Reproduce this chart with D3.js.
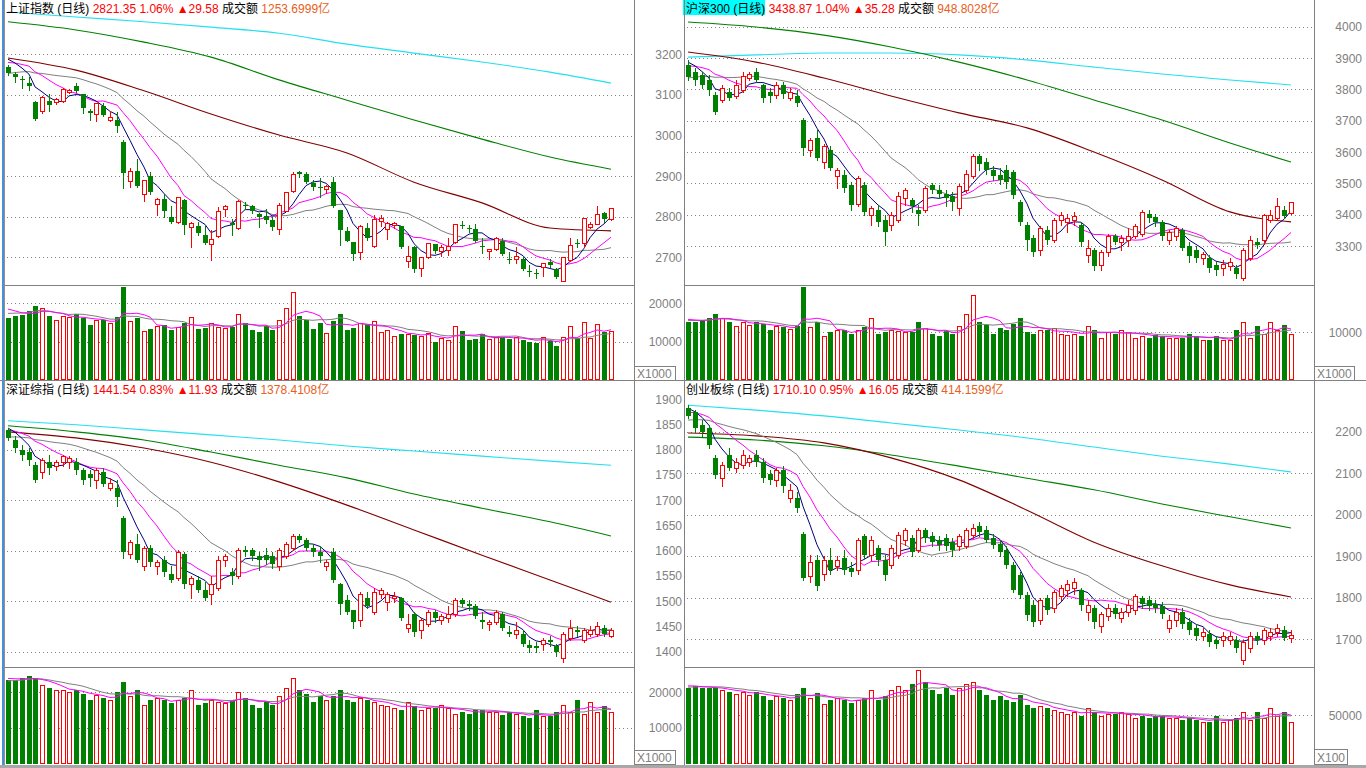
<!DOCTYPE html>
<html><head><meta charset="utf-8">
<script src="https://cdn.jsdelivr.net/npm/d3@7"></script>
<style>
html,body{margin:0;padding:0;background:#fff;overflow:hidden}
svg{display:block}
text{font-family:"Liberation Sans",Arial,"Noto Sans CJK SC",sans-serif;white-space:pre}
</style></head><body>
<svg id="c" width="1366" height="768"></svg>
<script>
// ---------------- DATA ----------------
const headerNames=['上证指数','沪深300','深证综指','创业板综'];
const headerClose=['2821.35','3438.87','1441.54','1710.10'];
const headerPct=['1.06%','1.04%','0.83%','0.95%'];
const headerChg=['29.58','35.28','11.93','16.05'];
const headerAmt=['1253.6999','948.8028','1378.4108','414.1599'];

const shTicks=[3200,3100,3000,2900,2800,2700];
const shGrid=[3200,3100,3000,2900,2800,2700];
const hsTicks=[4000,3900,3800,3700,3600,3500,3400,3300];
const szTicks=[1900,1850,1800,1750,1700,1650,1600,1550,1500,1450,1400];
const szGrid=[1800,1700,1600,1500,1400];
const cyTicks=[2200,2100,2000,1900,1800,1700];
const shVolTicks=[20000,10000];
const hsVolTicks=[10000];
const szVolTicks=[20000,10000];
const cyVolTicks=[50000];
const maKeyIdx=[0,10,20,30,40,50,60,70,80,89];

// 上证指数
const shOpen=[3169,3151,3139,3130,3083,3061,3085,3083,3086,3107,3122,3101,3060,3053,3073,3037,3038,2985,2889,2913,2855,2900,2831,2844,2799,2788,2840,2774,2777,2755,2732,2752,2819,2784,2771,2830,2826,2807,2802,2791,2769,2815,2863,2911,2904,2882,2872,2867,2885,2816,2765,2737,2712,2771,2729,2790,2769,2780,2777,2691,2726,2673,2700,2732,2715,2718,2737,2780,2772,2769,2729,2716,2720,2741,2697,2695,2697,2667,2661,2677,2689,2671,2642,2693,2734,2734,2774,2782,2808,2794];
const shHigh=[3174,3156,3146,3143,3085,3097,3102,3092,3116,3114,3130,3102,3065,3081,3079,3060,3059,2989,2919,2942,2891,2909,2845,2856,2827,2849,2843,2788,2788,2777,2767,2825,2829,2794,2842,2837,2829,2808,2818,2800,2833,2862,2911,2913,2910,2890,2895,2877,2898,2817,2775,2738,2780,2784,2804,2804,2788,2788,2778,2728,2727,2701,2736,2733,2730,2747,2783,2790,2779,2782,2748,2720,2749,2747,2714,2725,2701,2681,2670,2686,2697,2673,2701,2747,2744,2797,2788,2826,2812,2822];
const shLow=[3149,3132,3118,3112,3039,3056,3061,3078,3083,3104,3108,3055,3038,3036,3049,3035,3009,2871,2874,2874,2839,2857,2804,2800,2785,2784,2757,2725,2755,2733,2693,2751,2802,2755,2770,2818,2808,2775,2784,2767,2757,2814,2862,2898,2882,2866,2849,2859,2824,2730,2740,2693,2697,2743,2726,2777,2744,2771,2722,2675,2664,2655,2698,2711,2703,2706,2734,2771,2763,2738,2711,2695,2718,2706,2685,2685,2668,2654,2648,2654,2677,2650,2641,2692,2726,2726,2771,2781,2788,2793];
const shClose=[3155,3143,3137,3123,3041,3094,3076,3091,3114,3113,3110,3068,3055,3079,3051,3045,3024,2908,2913,2876,2890,2862,2843,2815,2787,2848,2779,2785,2759,2734,2746,2815,2827,2779,2838,2828,2814,2800,2792,2774,2829,2860,2904,2905,2885,2874,2871,2876,2826,2767,2741,2707,2778,2747,2794,2796,2785,2784,2725,2704,2670,2700,2734,2716,2725,2728,2782,2779,2771,2741,2728,2720,2747,2707,2693,2703,2670,2666,2660,2685,2681,2652,2700,2730,2733,2796,2782,2806,2794,2821];
const shVol=[16150,16670,16930,17970,19270,18660,16670,15540,16580,16320,17100,16230,14320,15620,15620,14760,16400,24300,15360,16230,12760,13370,14060,14320,13020,13720,14930,16320,13370,13630,14760,13800,13540,13800,17100,14840,13110,12500,13970,13110,15620,18750,22830,16670,15710,13370,14840,12150,15360,17100,13020,13630,14760,14320,15360,12400,13020,11480,12000,12000,11740,11480,12150,9800,10850,10420,14150,12760,10420,10680,11900,10590,11280,11110,10680,11110,10420,9980,9720,11280,10240,8850,11280,13970,10850,15000,10850,14500,12400,12760];
const shPriorClose=[3105,3100,3110,3112,3113,3130,3140,3150,3148,3152,3160,3170,3165,3180,3185,3190,3200,3198,3197];
const shPriorVol=[16000,16500,16200,16300,16250,19000,19500,18800,19000];
const shMA60=[3191,3161,3110,3053,3001,2957,2885,2834,2772,2765];
const shMA120=[3280,3260,3230,3193,3137,3087,3038,2991,2947,2917];
const shMA250=[3304,3292,3280,3267,3252,3225,3203,3181,3156,3129];

// 沪深300
const hsOpen=[3878,3855,3846,3830,3782,3766,3792,3779,3798,3836,3855,3814,3792,3782,3814,3772,3779,3702,3606,3645,3568,3606,3523,3527,3495,3434,3495,3399,3415,3383,3367,3383,3453,3447,3415,3415,3495,3479,3466,3460,3421,3479,3523,3587,3568,3543,3527,3543,3536,3440,3367,3326,3287,3351,3319,3383,3377,3383,3367,3271,3287,3239,3281,3332,3313,3319,3332,3338,3402,3392,3377,3319,3332,3351,3300,3287,3262,3262,3239,3230,3236,3230,3198,3262,3313,3319,3383,3389,3415,3405];
const hsHigh=[3894,3868,3855,3846,3792,3814,3804,3830,3855,3855,3868,3817,3804,3823,3823,3804,3798,3709,3645,3670,3626,3619,3549,3543,3504,3523,3504,3428,3431,3399,3409,3472,3485,3453,3431,3492,3501,3495,3479,3472,3498,3543,3594,3594,3581,3555,3549,3558,3543,3447,3377,3335,3364,3364,3389,3409,3402,3409,3377,3319,3294,3287,3338,3338,3335,3357,3370,3415,3415,3402,3383,3351,3364,3357,3313,3300,3281,3271,3249,3255,3262,3239,3294,3332,3325,3402,3415,3453,3428,3440];
const hsLow=[3830,3814,3804,3782,3721,3760,3766,3772,3792,3830,3823,3760,3760,3772,3772,3766,3747,3590,3587,3574,3549,3543,3485,3472,3415,3428,3399,3367,3364,3303,3351,3377,3431,3409,3367,3409,3469,3453,3428,3415,3399,3472,3517,3543,3530,3511,3498,3485,3453,3367,3287,3268,3271,3306,3313,3367,3345,3367,3300,3249,3223,3223,3268,3306,3287,3300,3325,3332,3377,3364,3319,3306,3319,3287,3249,3249,3243,3217,3207,3207,3223,3198,3191,3255,3294,3306,3377,3383,3389,3402];
const hsClose=[3839,3830,3814,3798,3728,3804,3772,3814,3843,3849,3830,3772,3779,3814,3785,3792,3756,3613,3638,3581,3619,3549,3543,3485,3431,3517,3409,3421,3377,3345,3399,3460,3479,3428,3402,3485,3479,3466,3453,3440,3492,3530,3587,3562,3543,3523,3511,3504,3463,3377,3319,3281,3357,3319,3383,3399,3389,3396,3313,3293,3236,3281,3332,3313,3326,3332,3364,3408,3389,3377,3332,3345,3357,3294,3268,3262,3274,3230,3223,3243,3249,3211,3287,3319,3303,3399,3399,3428,3396,3439];
const hsVol=[12160,12160,12580,13000,13830,13000,12160,11320,12160,11530,12160,11740,10480,11320,11110,10690,11320,19490,11110,12160,9220,10060,10480,10480,9640,10480,11110,13000,9640,10060,10480,10270,10060,10060,12160,10900,9640,9220,10270,9640,11320,13830,17820,12160,11530,9640,10900,10480,11740,13000,10060,9640,10480,10480,10900,9640,9430,9640,9220,11320,10480,8800,10060,9640,10480,10060,8800,9220,8800,9430,9220,8800,8800,8800,9640,9220,8380,8380,9220,8380,8380,10480,12160,8800,11320,9640,12160,10480,11530,9640];
const hsPriorClose=[3770,3775,3785,3790,3795,3800,3805,3810,3815,3825,3845,3855,3865,3870,3880,3890,3905,3902,3899];
const hsPriorVol=[12000,12300,12100,12400,12200,12800,13000,12700,12900];
const hsMA60=[3919,3887,3836,3779,3725,3677,3600,3511,3409,3377];
const hsMA120=[4015,3999,3973,3935,3887,3830,3766,3702,3629,3568];
const hsMA250=[3903,3910,3916,3916,3910,3894,3871,3849,3830,3814];

// 深证综指
const szOpen=[1839,1819,1799,1795,1769,1756,1775,1768,1775,1775,1775,1760,1752,1740,1756,1724,1724,1665,1593,1613,1570,1605,1570,1581,1554,1546,1593,1534,1542,1522,1514,1526,1582,1558,1550,1601,1601,1589,1591,1589,1570,1589,1605,1629,1621,1605,1597,1570,1597,1534,1502,1482,1463,1506,1478,1514,1498,1506,1506,1447,1474,1443,1455,1478,1463,1467,1474,1502,1494,1490,1463,1455,1459,1474,1439,1435,1435,1413,1411,1415,1423,1411,1387,1427,1443,1423,1435,1435,1447,1431];
const szHigh=[1843,1827,1809,1803,1775,1783,1789,1779,1789,1787,1783,1764,1760,1764,1764,1744,1740,1669,1621,1633,1609,1611,1581,1589,1570,1601,1597,1550,1550,1538,1550,1589,1593,1566,1605,1609,1605,1597,1605,1597,1605,1617,1633,1633,1625,1613,1609,1581,1605,1535,1512,1483,1518,1518,1526,1526,1518,1518,1508,1474,1478,1467,1482,1482,1474,1490,1506,1506,1502,1494,1478,1463,1482,1478,1451,1459,1443,1423,1419,1427,1431,1415,1439,1463,1451,1447,1451,1459,1453,1447];
const szLow=[1819,1795,1779,1769,1736,1744,1752,1760,1768,1764,1752,1732,1728,1724,1728,1720,1688,1585,1585,1578,1562,1570,1554,1550,1538,1542,1526,1506,1518,1502,1494,1522,1570,1534,1546,1589,1582,1562,1574,1566,1562,1585,1601,1617,1601,1589,1578,1562,1538,1474,1474,1447,1451,1486,1474,1506,1482,1498,1463,1439,1431,1427,1451,1459,1455,1459,1470,1490,1482,1467,1447,1443,1455,1443,1431,1427,1411,1399,1399,1403,1411,1391,1379,1423,1431,1419,1431,1431,1431,1429];
const szClose=[1823,1803,1789,1779,1740,1779,1764,1775,1787,1783,1760,1740,1744,1760,1732,1734,1706,1597,1617,1581,1605,1578,1578,1558,1542,1597,1534,1546,1522,1506,1534,1582,1589,1550,1601,1597,1589,1582,1582,1574,1601,1613,1629,1621,1605,1597,1589,1578,1542,1494,1478,1459,1514,1490,1518,1522,1514,1510,1467,1455,1439,1463,1478,1467,1470,1474,1502,1494,1490,1470,1459,1459,1478,1447,1435,1443,1415,1407,1407,1423,1419,1399,1435,1447,1439,1443,1443,1451,1435,1442];
const szVol=[23450,23450,24010,24580,24010,22040,21190,20620,20620,20060,20620,19490,17800,19210,18360,17800,20060,22880,18930,20620,16390,17800,18360,17800,16950,17800,18360,20620,16390,16950,17800,17230,16950,17800,20060,18360,16390,15540,17230,16390,18930,21190,24010,20620,19490,17230,18930,17800,18930,20620,17800,17230,18360,17800,17230,16390,16100,15540,14970,17230,16100,14970,15540,15540,16390,15540,13840,14410,13840,14970,14970,14410,14410,13560,14410,13840,13280,12710,14970,13280,13280,14410,16390,14410,17800,13840,17230,14410,16100,14410];
const szPriorClose=[1800,1802,1805,1808,1810,1812,1814,1816,1818,1824,1828,1832,1835,1838,1841,1845,1850,1848,1847];
const szPriorVol=[22000,22500,22300,22800,22600,24000,24300,23800,24100];
const szMA60=[1835,1823,1803,1775,1736,1690,1641,1591,1542,1498];
const szMA120=[1847,1835,1819,1795,1769,1744,1712,1684,1657,1629];
const szMA250=[1857,1849,1839,1829,1819,1807,1797,1787,1777,1769];

// 创业板综
const cyOpen=[2257,2247,2216,2209,2137,2089,2144,2113,2120,2127,2144,2127,2098,2084,2108,2040,2040,1954,1853,1891,1857,1891,1877,1896,1872,1867,1949,1903,1920,1891,1879,1903,1939,1944,1915,1963,1949,1939,1944,1934,1925,1925,1951,1973,1963,1944,1930,1915,1879,1855,1807,1783,1747,1800,1776,1804,1819,1824,1819,1766,1776,1732,1756,1776,1751,1766,1771,1800,1795,1785,1780,1727,1747,1766,1742,1727,1708,1713,1698,1698,1698,1698,1650,1679,1708,1698,1708,1718,1722,1703];
const cyHigh=[2264,2252,2228,2216,2144,2127,2161,2137,2156,2144,2156,2137,2108,2113,2117,2074,2055,1958,1903,1903,1901,1920,1901,1915,1886,1944,1954,1949,1927,1903,1927,1958,1968,1951,1968,1968,1958,1949,1954,1944,1954,1968,1978,1982,1973,1954,1939,1925,1886,1862,1814,1795,1800,1807,1819,1831,1843,1848,1824,1795,1783,1766,1785,1785,1776,1795,1809,1804,1804,1795,1790,1759,1776,1776,1751,1737,1727,1722,1708,1718,1718,1708,1698,1718,1718,1727,1727,1737,1732,1722];
const cyLow=[2233,2199,2190,2161,2089,2069,2108,2103,2113,2117,2117,2079,2074,2069,2055,2031,2007,1843,1838,1819,1843,1857,1867,1857,1853,1857,1896,1891,1879,1843,1872,1896,1927,1901,1910,1934,1925,1915,1915,1901,1915,1920,1944,1949,1934,1920,1901,1872,1814,1800,1747,1732,1737,1761,1766,1795,1804,1809,1771,1747,1727,1718,1747,1751,1742,1756,1761,1776,1771,1766,1751,1718,1732,1727,1713,1698,1698,1684,1679,1684,1689,1670,1641,1670,1689,1689,1698,1708,1698,1694];
const cyClose=[2238,2209,2199,2168,2096,2120,2113,2127,2144,2137,2127,2089,2084,2108,2069,2060,2016,1848,1886,1828,1891,1867,1891,1867,1862,1939,1903,1939,1891,1855,1920,1951,1963,1910,1963,1944,1934,1927,1925,1915,1949,1963,1968,1958,1939,1927,1910,1879,1819,1807,1759,1742,1795,1771,1814,1824,1833,1838,1783,1783,1742,1761,1776,1761,1766,1783,1804,1785,1780,1776,1761,1747,1766,1737,1723,1708,1718,1694,1689,1708,1708,1679,1694,1708,1698,1722,1718,1727,1703,1710];
const cyVol=[77550,79590,77550,77550,77550,75510,73470,71430,73470,70410,73470,69390,65310,69390,67350,65310,71430,77550,67350,72450,61220,65310,67350,65310,62240,65310,67350,75510,65310,69390,75510,79590,75510,81630,95920,83670,75510,71430,77550,70410,77550,81630,83670,75510,70410,65310,69390,65310,63260,70410,60200,57140,59180,57140,55100,53060,51020,53060,48980,57140,53060,48980,51020,51020,53060,51020,46940,48980,46940,48980,48980,46940,46940,44900,46940,44900,42860,42860,48980,42860,44900,46940,53060,44900,53060,46940,57140,48980,53060,42860];
const cyPriorClose=[2195,2198,2200,2204,2207,2210,2213,2216,2220,2225,2230,2234,2238,2242,2245,2255,2265,2264,2263];
const cyPriorVol=[76000,77000,76500,78000,77500,80000,81000,79500,80500];
const cyMA60=[2197,2190,2173,2137,2084,2011,1934,1877,1831,1802];
const cyMA120=[2187,2180,2166,2144,2117,2088,2060,2026,1995,1968];
const cyMA250=[2264,2252,2238,2221,2204,2185,2163,2141,2122,2103];

// ---------------- LAYOUT ----------------
const RED='#ff0000', GREEN='#008000', GRAY='#808080';
const panels=[
 {i:0,open:shOpen,high:shHigh,low:shLow,close:shClose,vol:shVol,pc:shPriorClose,pv:shPriorVol,m60:shMA60,m120:shMA120,m250:shMA250,
  x0:5,x1:634,top:0,pBot:285,vTop:286,vBot:380,dom:[3200,2700],rng:[54.3,257.3],ticks:shTicks,grid:shGrid,lx:682,
  vdom:[0,20000],vrng:[380,303.3],vticks:shVolTicks,vlx:682,unit:{x:634.5,y:366.5,w:41,t:'X1000'},hx:6,hy:13},
 {i:1,open:hsOpen,high:hsHigh,low:hsLow,close:hsClose,vol:hsVol,pc:hsPriorClose,pv:hsPriorVol,m60:hsMA60,m120:hsMA120,m250:hsMA250,
  x0:685,x1:1314,top:0,pBot:285,vTop:286,vBot:380,dom:[4000,3300],rng:[26.7,246],ticks:hsTicks,grid:hsTicks,lx:1362,
  vdom:[0,10000],vrng:[380,332.3],vticks:hsVolTicks,vlx:1362,unit:{x:1314.5,y:366.5,w:40,t:'X1000'},hx:686,hy:13,hl:true},
 {i:2,open:szOpen,high:szHigh,low:szLow,close:szClose,vol:szVol,pc:szPriorClose,pv:szPriorVol,m60:szMA60,m120:szMA120,m250:szMA250,
  x0:5,x1:634,top:381,pBot:667,vTop:668,vBot:764,dom:[1900,1400],rng:[399,651.7],ticks:szTicks,grid:szGrid,lx:682,
  vdom:[0,20000],vrng:[763.1,692.3],vticks:szVolTicks,vlx:682,unit:{x:634.5,y:750,w:41,t:'X1000'},hx:6,hy:394},
 {i:3,open:cyOpen,high:cyHigh,low:cyLow,close:cyClose,vol:cyVol,pc:cyPriorClose,pv:cyPriorVol,m60:cyMA60,m120:cyMA120,m250:cyMA250,
  x0:685,x1:1314,top:381,pBot:667,vTop:668,vBot:764,dom:[2200,1700],rng:[431.7,639.3],ticks:cyTicks,grid:cyTicks,lx:1362,
  vdom:[0,50000],vrng:[764,715],vticks:cyVolTicks,vlx:1362,unit:{x:1314.5,y:749.5,w:33,t:'X100'},hx:686,hy:394}
];

const svg=d3.select('#c');
const defs=svg.append('defs');

function sma(arr,prior,n){
  const all=prior.concat(arr);
  return arr.map((_,i)=>{const j=i+prior.length;return d3.mean(all.slice(Math.max(0,j-n+1),j+1));});
}

panels.forEach(P=>{
  const N=P.close.length;
  const xs=d3.scaleBand().domain(d3.range(N)).range([P.x0,P.x0+609]).paddingInner(0).paddingOuter(0);
  const cx=i=>Math.round(xs(i)+xs.bandwidth()/2);
  const y=d3.scaleLinear().domain(P.dom).range(P.rng);
  const yv=d3.scaleLinear().domain(P.vdom).range(P.vrng);
  const g=svg.append('g');

  const cp='cp'+P.i, cv='cv'+P.i;
  defs.append('clipPath').attr('id',cp).append('rect').attr('x',P.x0).attr('y',P.top+1).attr('width',P.x1-P.x0).attr('height',P.pBot-P.top-1);
  defs.append('clipPath').attr('id',cv).append('rect').attr('x',P.x0).attr('y',P.vTop).attr('width',P.x1-P.x0).attr('height',P.vBot-P.vTop);

  const gg=g.append('g').attr('stroke',GRAY).attr('stroke-dasharray','1,3').attr('shape-rendering','crispEdges');
  P.grid.forEach(v=>{const yy=Math.round(y(v))+0.5;gg.append('line').attr('x1',P.x0+2).attr('x2',P.x1).attr('y1',yy).attr('y2',yy);});
  P.vticks.forEach(v=>{const yy=Math.round(yv(v))+0.5;gg.append('line').attr('x1',P.x0+2).attr('x2',P.x1).attr('y1',yy).attr('y2',yy);});

  const ta=g.append('g').attr('fill',GRAY).attr('font-size',12).attr('text-anchor','end');
  P.ticks.forEach(v=>ta.append('text').attr('x',P.lx).attr('y',y(v)+4.5).text(v));
  P.vticks.forEach(v=>ta.append('text').attr('x',P.vlx).attr('y',yv(v)+4.5).text(v));

  const gp=g.append('g').attr('clip-path',`url(#${cp})`);
  const line=d3.line().x(d=>cx(d[0])).y(d=>y(d[1]));
  const curve=d3.line().x(d=>cx(d[0])).y(d=>y(d[1])).curve(d3.curveMonotoneX);
  const addKey=(arr,col)=>gp.append('path').attr('d',curve(arr.map((v,k)=>[maKeyIdx[k],v]))).attr('fill','none').attr('stroke',col).attr('stroke-width',1.1);
  addKey(P.m250,'#22e0f0');
  addKey(P.m120,'#008000');
  addKey(P.m60,'#800000');
  const ma20=sma(P.close,P.pc,20), ma10=sma(P.close,P.pc,10), ma5=sma(P.close,P.pc,5);
  [[ma20,GRAY],[ma10,'#ff00ff'],[ma5,'#000080']].forEach(([m,c])=>
    gp.append('path').attr('d',line(m.map((v,i)=>[i,v]))).attr('fill','none').attr('stroke',c).attr('stroke-width',1));

  const gc=gp.append('g').attr('shape-rendering','crispEdges');
  P.close.forEach((c,i)=>{
    const o=P.open[i],h=P.high[i],l=P.low[i],x=cx(i);
    const yo=Math.round(y(o)),yc=Math.round(y(c)),yh=Math.round(y(h)),yl=Math.round(y(l));
    const top=Math.min(yo,yc),bot=Math.max(yo,yc);
    if(c>o){
      gc.append('line').attr('x1',x+0.5).attr('x2',x+0.5).attr('y1',yh).attr('y2',top).attr('stroke',RED);
      gc.append('line').attr('x1',x+0.5).attr('x2',x+0.5).attr('y1',bot+1).attr('y2',yl+1).attr('stroke',RED);
      gc.append('rect').attr('x',x-1.5).attr('y',top+0.5).attr('width',4).attr('height',Math.max(bot-top,1)).attr('fill','#fff').attr('stroke',RED);
    }else{
      gc.append('line').attr('x1',x+0.5).attr('x2',x+0.5).attr('y1',yh).attr('y2',yl+1).attr('stroke',GREEN);
      gc.append('rect').attr('x',x-2).attr('y',top).attr('width',5).attr('height',Math.max(bot-top,1)).attr('fill',GREEN);
    }
  });

  const gv=g.append('g').attr('clip-path',`url(#${cv})`);
  const gvb=gv.append('g').attr('shape-rendering','crispEdges');
  const base=P.vBot;
  P.vol.forEach((v,i)=>{
    const x=cx(i), yt=Math.round(yv(v));
    if(P.close[i]>P.open[i]){
      gvb.append('rect').attr('x',x-1.5).attr('y',yt+0.5).attr('width',4).attr('height',base-yt-1).attr('fill','#fff').attr('stroke',RED);
    }else{
      gvb.append('rect').attr('x',x-2).attr('y',yt).attr('width',5).attr('height',base-yt).attr('fill',GREEN);
    }
  });
  const vline=d3.line().x(d=>cx(d[0])).y(d=>yv(d[1]));
  const v10=sma(P.vol,P.pv,10), v5=sma(P.vol,P.pv,5);
  gv.append('path').attr('d',vline(v10.map((v,i)=>[i,v]))).attr('fill','none').attr('stroke',GRAY).attr('stroke-width',1);
  gv.append('path').attr('d',vline(v5.map((v,i)=>[i,v]))).attr('fill','none').attr('stroke','#ff00ff').attr('stroke-width',1);

  const gb=g.append('g').attr('stroke',GRAY).attr('shape-rendering','crispEdges').attr('fill','none');
  gb.append('line').attr('x1',P.x0).attr('x2',P.x1).attr('y1',P.vTop-0.5).attr('y2',P.vTop-0.5);
  gb.append('rect').attr('x',P.unit.x).attr('y',P.unit.y).attr('width',P.unit.w).attr('height',P.vBot-P.unit.y);
  g.append('text').attr('x',P.unit.x+2.5).attr('y',P.vBot-2).attr('font-size',12).attr('fill',GRAY).text(P.unit.t);

  if(P.hl) g.append('rect').attr('x',683).attr('y',0).attr('width',82).attr('height',15).attr('fill','#00ffff');
  const t=g.append('text').attr('x',P.hx).attr('y',P.hy).attr('font-size',12);
  t.append('tspan').attr('fill','#000').text(headerNames[P.i]+' (日线) ');
  t.append('tspan').attr('fill',RED).text(headerClose[P.i]+' '+headerPct[P.i]+' ▲'+headerChg[P.i]+' ');
  t.append('tspan').attr('fill','#000').text('成交额 ');
  t.append('tspan').attr('fill','#e8601c').text(headerAmt[P.i]+'亿');
});

const fr=svg.append('g').attr('stroke',GRAY).attr('shape-rendering','crispEdges');
[634.5,684.5,1314.5].forEach(x=>fr.append('line').attr('x1',x).attr('x2',x).attr('y1',0).attr('y2',765));
fr.append('line').attr('x1',0).attr('x2',1366).attr('y1',380.5).attr('y2',380.5);
svg.append('rect').attr('x',2).attr('y',0).attr('width',2).attr('height',768).attr('fill','#4a8fd8');
svg.append('rect').attr('x',4).attr('y',0).attr('width',1).attr('height',768).attr('fill','#909090');
svg.append('rect').attr('x',0).attr('y',765).attr('width',1366).attr('height',3).attr('fill','#a8a8a8');
</script></body></html>
